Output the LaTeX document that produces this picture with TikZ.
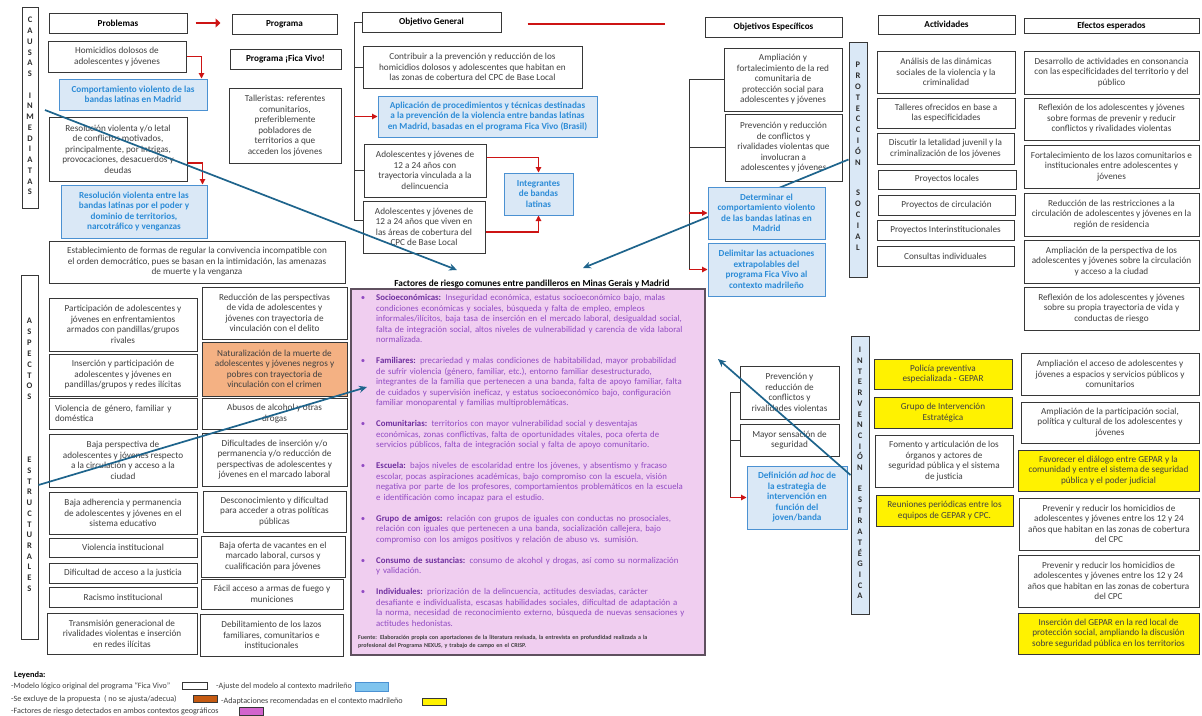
\documentclass[tikz,border=0pt]{standalone}
\usepackage{fontspec}
\setmainfont{Carlito}
\usetikzlibrary{arrows.meta,calc}
\definecolor{gtext}{RGB}{64,64,64}
\definecolor{bdk}{RGB}{55,55,55}
\definecolor{btext}{RGB}{45,140,215}
\definecolor{bfill}{RGB}{218,232,246}
\definecolor{bdraw}{RGB}{75,145,210}
\definecolor{ofill}{RGB}{244,177,131}
\definecolor{redc}{RGB}{205,20,20}
\definecolor{tealc}{RGB}{30,100,140}
\definecolor{pfill}{RGB}{240,206,240}
\definecolor{pdraw}{RGB}{95,80,95}
\definecolor{pbody}{RGB}{145,75,195}
\definecolor{phead}{RGB}{112,48,160}
\definecolor{vtext}{RGB}{45,45,45}
\definecolor{legblue}{RGB}{127,196,238}
\definecolor{legor}{RGB}{197,90,17}
\definecolor{legpink}{RGB}{210,100,205}
\newcommand\myfs{\fontsize{9.2}{10.5}\selectfont}
\newcommand\bx[7]{%
 \pgfmathsetmacro\bxw{#4-#2}\pgfmathsetmacro\bxh{#5-#3}%
 \pgfmathsetmacro\bxx{(#2+#4)/2}\pgfmathsetmacro\bxy{(#3+#5)/2}%
 \node[#6, minimum width=\bxw pt, minimum height=\bxh pt] (#1) at (\bxx,\bxy) {#7};}
\newcommand\jl[1]{\makebox[325pt][s]{#1}\\}
\newcommand\bul{\llap{\textbullet\hspace{11pt}}}
\newcommand\hd[1]{{\color{phead}\bfseries #1}}
\begin{document}
\begin{tikzpicture}[x=1pt,y=-1pt,
 nbox/.style={draw=bdk, line width=1pt, fill=white, text=gtext, font=\myfs, align=center, inner xsep=2pt, inner ysep=2pt},
 hbox/.style={nbox, text=black, font=\myfs\bfseries},
 bbox/.style={nbox, draw=bdraw, fill=bfill, text=btext, font=\myfs\bfseries},
 ybox/.style={nbox, fill=yellow},
 obox/.style={nbox, fill=ofill},
 vbbox/.style={nbox, fill=bfill},
 pbox/.style={draw=pdraw, line width=1.3pt, fill=pfill, inner sep=0pt},
 vlet/.style={font=\bfseries\fontsize{8.5}{#1}\selectfont, text=vtext, text width=12pt, align=center, inner sep=0pt},
 redarr/.style={draw=redc, line width=1.1pt, -{Triangle[length=5.5pt,width=5.5pt]}},
 thickred/.style={draw=redc, line width=2.8pt, -{Triangle[length=5pt,width=9pt]}},
 tealarr/.style={draw=tealc, line width=1.7pt, -{Stealth[length=8pt,width=7pt]}},
 brk/.style={draw=bdk, line width=1pt},
 legb/.style={draw=bdk, line width=0.8pt, inner sep=0pt},
 legt/.style={font=\fontsize{8.1}{10}\selectfont, text=gtext, inner sep=0pt, anchor=base west},
]
\fill[white] (0,0) rectangle (1202,715);
\useasboundingbox (0,0) rectangle (1202,715);

% ---------- left column ----------
\bx{causas}{22}{7}{38}{208}{nbox}{}
\node[vlet=10.75, anchor=base] (causasA) at (30,22.8) {C\\A\\U\\S\\A\\S};
\node[vlet=10.75, anchor=base] (causasB) at (30,98) {I\\N\\M\\E\\D\\I\\A\\T\\A\\S};
\bx{prob}{49}{13}{187}{33}{hbox}{Problemas}
\bx{homic}{48}{41}{186}{72}{nbox}{Homicidios dolosos de\\adolescentes y jóvenes}
\bx{comport}{59}{79}{207}{110}{bbox}{Comportamiento violento de las\\bandas latinas en Madrid}
\bx{letal}{49}{117}{187}{181}{nbox}{Resolución violenta y/o letal\\de conflictos motivados,\\principalmente, por intrigas,\\provocaciones, desacuerdos y\\deudas}
\bx{resol}{61}{185}{207}{238}{bbox}{Resolución violenta entre las\\bandas latinas por el poder y\\dominio de territorios,\\narcotráfico y venganzas}
\bx{estab}{49}{241}{345}{283}{nbox}{Establecimiento de formas de regular la convivencia incompatible con\\el orden democrático, pues se basan en la intimidación, las amenazas\\de muerte y la venganza}

\bx{aspect}{21}{275}{38}{639}{nbox}{}
\node[vlet=10.85, anchor=base] (aspA) at (29.5,323.8) {A\\S\\P\\E\\C\\T\\O\\S};
\node[vlet=10.7, anchor=base] (aspB) at (29.5,462.8) {E\\S\\T\\R\\U\\C\\T\\U\\R\\A\\L\\E\\S};
\bx{partic}{49}{298}{197}{351}{nbox}{Participación de adolescentes y\\jóvenes en enfrentamientos\\armados con pandillas/grupos\\rivales}
\bx{insert}{49}{354}{197}{396}{nbox}{Inserción y participación de\\adolescentes y jóvenes en\\pandillas/grupos y redes ilícitas}
\node[nbox, align=left, text width=136pt, minimum width=148pt, minimum height=31pt] (violg) at (123,413.5) {Violencia de género, familiar y\\doméstica};
\bx{bajap}{49}{434}{197}{487}{nbox}{Baja perspectiva de\\adolescentes y jóvenes respecto\\a la circulación y acceso a la\\ciudad}
\bx{bajaad}{49}{492}{197}{534}{nbox}{Baja adherencia y permanencia\\de adolescentes y jóvenes en el\\sistema educativo}
\bx{violi}{49}{538}{197}{557}{nbox}{Violencia institucional}
\bx{dific}{49}{563}{197}{583}{nbox}{Dificultad de acceso a la justicia}
\bx{racis}{49}{587}{197}{607}{nbox}{Racismo institucional}
\bx{trans}{47}{613}{197}{654}{nbox}{Transmisión generacional de\\rivalidades violentas e inserción\\en redes ilícitas}
\bx{reduc}{202}{287}{347}{339}{nbox}{Reducción de las perspectivas\\de vida de adolescentes y\\jóvenes con trayectoria de\\vinculación con el delito}
\bx{natur}{202}{342}{347}{396}{obox}{Naturalización de la muerte de\\adolescentes y jóvenes negros y\\pobres con trayectoria de\\vinculación con el crimen}
\bx{abusos}{202}{398}{347}{429}{nbox}{Abusos de alcohol y otras\\drogas}
\bx{difins}{202}{433}{347}{486}{nbox}{Dificultades de inserción y/o\\permanencia y/o reducción de\\perspectivas de adolescentes y\\jóvenes en el marcado laboral}
\bx{descon}{203}{491}{346}{532}{nbox}{Desconocimiento y dificultad\\para acceder a otras políticas\\públicas}
\bx{bajao}{201}{536}{345}{577}{nbox}{Baja oferta de vacantes en el\\marcado laboral, cursos y\\cualificación para jóvenes}
\bx{facil}{201}{579}{343}{609}{nbox}{Fácil acceso a armas de fuego y\\municiones}
\bx{debil}{200}{614}{343}{656}{nbox}{Debilitamiento de los lazos\\familiares, comunitarios e\\institucionales}

% ---------- middle ----------
\bx{prog}{232}{14}{337}{34}{hbox}{Programa}
\bx{fica}{230}{49}{341}{69}{hbox}{Programa ¡Fica Vivo!}
\bx{taller}{229}{88}{341}{163}{nbox}{Talleristas: referentes\\comunitarios,\\preferiblemente\\pobladores de\\territorios a que\\acceden los jóvenes}
\bx{og}{362}{12}{501}{32}{hbox}{Objetivo General}
\bx{contrib}{363}{46}{582}{88}{nbox}{Contribuir a la prevención y reducción de los\\homicidios dolosos y adolescentes que habitan en\\las zonas de cobertura del CPC de Base Local}
\bx{aplic}{378}{96}{597}{137}{bbox}{Aplicación de procedimientos y técnicas destinadas\\a la prevención de la violencia entre bandas latinas\\en Madrid, basadas en el programa Fica Vivo (Brasil)}
\bx{adol1}{364}{144}{486}{197}{nbox}{Adolescentes y jóvenes de\\12 a 24 años con\\trayectoria vinculada a la\\delincuencia}
\bx{adol2}{363}{201}{485}{253}{nbox}{Adolescentes y jóvenes de\\12 a 24 años que viven en\\las áreas de cobertura del\\CPC de Base Local}
\bx{integ}{504}{173}{573}{215}{bbox}{Integrantes\\de bandas\\latinas}

\node[font=\fontsize{9.3}{11}\selectfont\bfseries, text=black, inner sep=0pt] (ftitle) at (532,284) {Factores de riesgo comunes entre pandilleros en Minas Gerais y Madrid};
\bx{pinkbox}{351}{289}{705}{655}{pbox}{}
\node[font=\fontsize{8.8}{10.5}\selectfont, text=pbody, text width=325pt, align=left, inner sep=0pt, anchor=base west] (ptx) at (376,300.8) {%
\jl{\bul\hd{Socioeconómicas:} Inseguridad económica, estatus socioeconómico bajo, malas}
\jl{condiciones económicas y sociales, búsqueda y falta de empleo, empleos}
\jl{informales/ilícitos, baja tasa de inserción en el mercado laboral, desigualdad social,}
\jl{falta de integración social, altos niveles de vulnerabilidad y carencia de vida laboral}
normalizada.\\[10.5pt]
\jl{\bul\hd{Familiares:} precariedad y malas condiciones de habitabilidad, mayor probabilidad}
\jl{de sufrir violencia (género, familiar, etc.), entorno familiar desestructurado,}
\jl{integrantes de la familia que pertenecen a una banda, falta de apoyo familiar, falta}
\jl{de cuidados y supervisión ineficaz, y estatus socioeconómico bajo, configuración}
familiar monoparental y familias multiproblemáticas.\\[10.5pt]
\jl{\bul\hd{Comunitarias:} territorios con mayor vulnerabilidad social y desventajas}
\jl{económicas, zonas conflictivas, falta de oportunidades vitales, poca oferta de}
servicios públicos, falta de integración social y falta de apoyo comunitario.\\[10.5pt]
\jl{\bul\hd{Escuela:} bajos niveles de escolaridad entre los jóvenes, y absentismo y fracaso}
\jl{escolar, pocas aspiraciones académicas, bajo compromiso con la escuela, visión}
\jl{negativa por parte de los profesores, comportamientos problemáticos en la escuela}
e identificación como incapaz para el estudio.\\[10.5pt]
\jl{\bul\hd{Grupo de amigos:} relación con grupos de iguales con conductas no prosociales,}
\jl{relación con iguales que pertenecen a una banda, socialización callejera, bajo}
compromiso con los amigos positivos y relación de abuso vs. sumisión.\\[10.5pt]
\jl{\bul\hd{Consumo de sustancias:} consumo de alcohol y drogas, así como su normalización}
y validación.\\[10.5pt]
\jl{\bul\hd{Individuales:} priorización de la delincuencia, actitudes desviadas, carácter}
\jl{desafiante e individualista, escasas habilidades sociales, dificultad de adaptación a}
\jl{la norma, necesidad de reconocimiento externo, búsqueda de nuevas sensaciones y}
actitudes hedonistas.};
\node[font=\fontsize{6}{8}\selectfont\bfseries, text=gtext, text width=344pt, align=left, inner sep=0pt, anchor=base west] (fuente) at (358,639) {\makebox[344pt][s]{Fuente: Elaboración propia con aportaciones de la literatura revisada, la entrevista en profundidad realizada a la}\\profesional del Programa NEXUS, y trabajo de campo en el CRISP.};

% ---------- right ----------
\bx{oe}{705}{17}{842}{37}{hbox}{Objetivos Específicos}
\bx{amplred}{724}{48}{842}{111}{nbox}{Ampliación y\\fortalecimiento de la red\\comunitaria de\\protección social para\\adolescentes y jóvenes}
\bx{prevconf}{725}{114}{842}{181}{nbox}{Prevención y reducción\\de conflictos y\\rivalidades violentas que\\involucran a\\adolescentes y jóvenes}
\bx{protec}{849}{42}{867}{277}{vbbox}{}
\node[vlet=10.8, anchor=base] (protA) at (858,67.8) {P\\R\\O\\T\\E\\C\\C\\I\\Ó\\N};
\node[vlet=11, anchor=base] (protB) at (858,195.8) {S\\O\\C\\I\\A\\L};
\bx{act}{878}{15}{1015}{34}{hbox}{Actividades}
\bx{anal}{877}{51}{1015}{93}{nbox}{Análisis de las dinámicas\\sociales de la  violencia y la\\criminalidad}
\bx{talleres}{877}{98}{1015}{128}{nbox}{Talleres ofrecidos en base a\\las especificidades}
\bx{discut}{877}{133}{1014}{164}{nbox}{Discutir la letalidad juvenil y la\\criminalización de los jóvenes}
\bx{ploc}{878}{170}{1016}{189}{nbox}{Proyectos locales}
\bx{pcirc}{878}{195}{1015}{215}{nbox}{Proyectos de circulación}
\bx{pinter}{877}{220}{1014}{240}{nbox}{Proyectos Interinstitucionales}
\bx{consul}{877}{246}{1014}{266}{nbox}{Consultas individuales}
\bx{efe}{1024}{18}{1199}{33}{hbox}{Efectos esperados}
\bx{desa}{1024}{51}{1199}{94}{nbox}{Desarrollo de actividades en consonancia\\con las especificidades del territorio y del\\público}
\bx{refl1}{1024}{98}{1199}{140}{nbox}{Reflexión de los adolescentes y jóvenes\\sobre formas de prevenir y reducir\\conflictos y rivalidades violentas}
\bx{fort}{1024}{145}{1199}{188}{nbox}{Fortalecimiento de los lazos comunitarios e\\institucionales entre adolescentes y\\jóvenes}
\bx{reduc2}{1024}{193}{1199}{236}{nbox}{Reducción de las restricciones a la\\circulación de adolescentes y jóvenes en la\\región de residencia}
\bx{amplp}{1024}{240}{1199}{283}{nbox}{Ampliación de la perspectiva de los\\adolescentes y jóvenes sobre la circulación\\y acceso a la ciudad}
\bx{refl2}{1024}{287}{1199}{330}{nbox}{Reflexión de los adolescentes y jóvenes\\sobre su propia trayectoria de vida y\\conductas de riesgo}

\bx{prevIE}{740}{366}{839}{419}{nbox}{Prevención y\\reducción de\\conflictos y\\rivalidades violentas}
\bx{mayor}{740}{424}{839}{456}{nbox}{Mayor sensación de\\seguridad}
\bx{defin}{747}{466}{847}{529}{bbox}{Definición \textit{ad hoc} de\\la estrategia de\\intervención en\\función del\\joven/banda}
\bx{interv}{851}{336}{869}{614}{vbbox}{}
\node[vlet=10.7, anchor=base] (intA) at (860,352.8) {I\\N\\T\\E\\R\\V\\E\\N\\C\\I\\Ó\\N};
\node[vlet=10.7, anchor=base] (intB) at (860,491.8) {E\\S\\T\\R\\A\\T\\É\\G\\I\\C\\A};
\bx{polic}{874}{359}{1012}{389}{ybox}{Policía preventiva\\especializada - GEPAR}
\bx{grupoi}{874}{397}{1012}{428}{ybox}{Grupo de Intervención\\Estratégica}
\bx{foment}{875}{435}{1013}{487}{nbox}{Fomento y articulación de los\\órganos y actores de\\seguridad pública y el sistema\\de justicia}
\bx{reun}{876}{495}{1013}{526}{ybox}{Reuniones periódicas entre los\\equipos de GEPAR y CPC.}
\bx{amplacc}{1021}{353}{1199}{395}{nbox}{Ampliación el acceso de adolescentes y\\jóvenes a espacios y servicios públicos y\\comunitarios}
\bx{amplpart}{1021}{402}{1199}{443}{nbox}{Ampliación de la participación social,\\política y cultural de los adolescentes y\\jóvenes}
\bx{favor}{1018}{450}{1199}{491}{ybox}{Favorecer el diálogo entre GEPAR y la\\comunidad y entre el sistema de seguridad\\pública y el poder judicial}
\bx{prev1}{1019}{498}{1199}{550}{nbox}{Prevenir y reducir los homicidios de\\adolescentes y jóvenes entre los 12 y 24\\años que habitan en las zonas de cobertura\\del CPC}
\bx{prev2}{1018}{555}{1199}{607}{nbox}{Prevenir y reducir los homicidios de\\adolescentes y jóvenes entre los 12 y 24\\años que habitan en las zonas de cobertura\\del CPC}
\bx{insGE}{1018}{613}{1199}{654}{ybox}{Inserción del GEPAR  en la red local de\\protección social, ampliando la discusión\\sobre seguridad pública en los territorios}

% ---------- connectors ----------
\draw[thickred, shorten <=8pt, shorten >=11pt] (prob.east) -- (prob.east -| prog.west);
\draw[draw=redc, line width=1.3pt, shorten <=26pt, shorten >=40pt] ($(og.east)+(0,2)$) -- ($(og.east -| oe.west)+(0,2)$);
\draw[redarr] (homic.east) -| ($(comport.north east)+(-6,0)$);
\draw[redarr] ($(letal.east)+(0,14)$) -| ($(resol.north east)+(-5,0)$);
\draw[redarr] ($(adol1.east)+(0,-13)$) -| (integ.north);
\draw[redarr] ($(adol2.east)+(0,5)$) -| (integ.south);

\coordinate (sp1) at (354,0);
\draw[brk] (og.west) -- (og.west -| sp1) -- ($(adol2.west -| sp1)+(0,-7)$) -- ($(adol2.west)+(0,-7)$);
\draw[brk] (contrib.west) -- (contrib.west -| sp1);
\draw[brk] (adol1.west) -- (adol1.west -| sp1);
\draw[redarr] (aplic.west -| sp1) -- (aplic.west);

\coordinate (sp2) at (689,0);
\draw[brk] (amplred.west) -- (amplred.west -| sp2) -- (sp2 |- 0,270);
\draw[brk] (prevconf.west) -- (prevconf.west -| sp2);

\coordinate (t2e) at (583,268);
\draw[tealarr] (protec.west) -- (t2e);

\bx{determ}{708}{187}{825}{239}{bbox}{Determinar el\\comportamiento violento\\de las bandas latinas en\\Madrid}
\bx{delim}{708}{243}{825}{296}{bbox}{Delimitar las actuaciones\\extrapolables del\\programa Fica Vivo al\\contexto madrileño}
\draw[redarr] (determ.west -| sp2) -- (determ.west);
\draw[redarr] (delim.west -| sp2) -- (delim.west);

\coordinate (sp3) at (730,0);
\draw[brk] (prevIE.west) -- (prevIE.west -| sp3) -- (defin.west -| sp3);
\draw[brk] (mayor.west) -- (mayor.west -| sp3);
\draw[redarr] (defin.west -| sp3) -- (defin.west);

\coordinate (t1e) at (457,270);
\draw[tealarr, shorten <=7pt] (causas.east) -- (t1e);
\coordinate (t3e) at (367,387);
\draw[tealarr] ($(aspect.east)+(0,28)$) -- (t3e);
\coordinate (t4e) at (718,359);
\draw[tealarr] (interv.west) -- (t4e);

% ---------- legend ----------
\node[font=\fontsize{8.4}{10}\selectfont\bfseries, text=black, inner sep=0pt, anchor=base west] (leyenda) at (14,677) {Leyenda:};
\node[legt] (lt1) at (11,688) {-Modelo lógico original del programa “Fica Vivo”};
\node[legb, fill=white, minimum width=25pt, minimum height=7pt] (lb1) at (194.5,685.5) {};
\node[legt] (lt2) at (216,688) {-Ajuste del modelo al contexto madrileño};
\node[legb, draw=bdraw, fill=legblue, minimum width=33pt, minimum height=9pt] (lb2) at (371.5,686.5) {};
\node[legt] (lt3) at (11,701) {-Se excluye de la propuesta\ \ ( no se ajusta/adecua)};
\node[legb, fill=legor, minimum width=24pt, minimum height=7pt] (lb3) at (205,698.5) {};
\node[legt] (lt4) at (221,703) {-Adaptaciones recomendadas en el contexto madrileño};
\node[legb, fill=yellow, minimum width=24pt, minimum height=7pt] (lb4) at (434,701.5) {};
\node[legt] (lt5) at (11,713) {-Factores de riesgo detectados en ambos contextos geográficos};
\node[legb, fill=legpink, minimum width=24pt, minimum height=8pt] (lb5) at (251,711) {};
\end{tikzpicture}
\end{document}
